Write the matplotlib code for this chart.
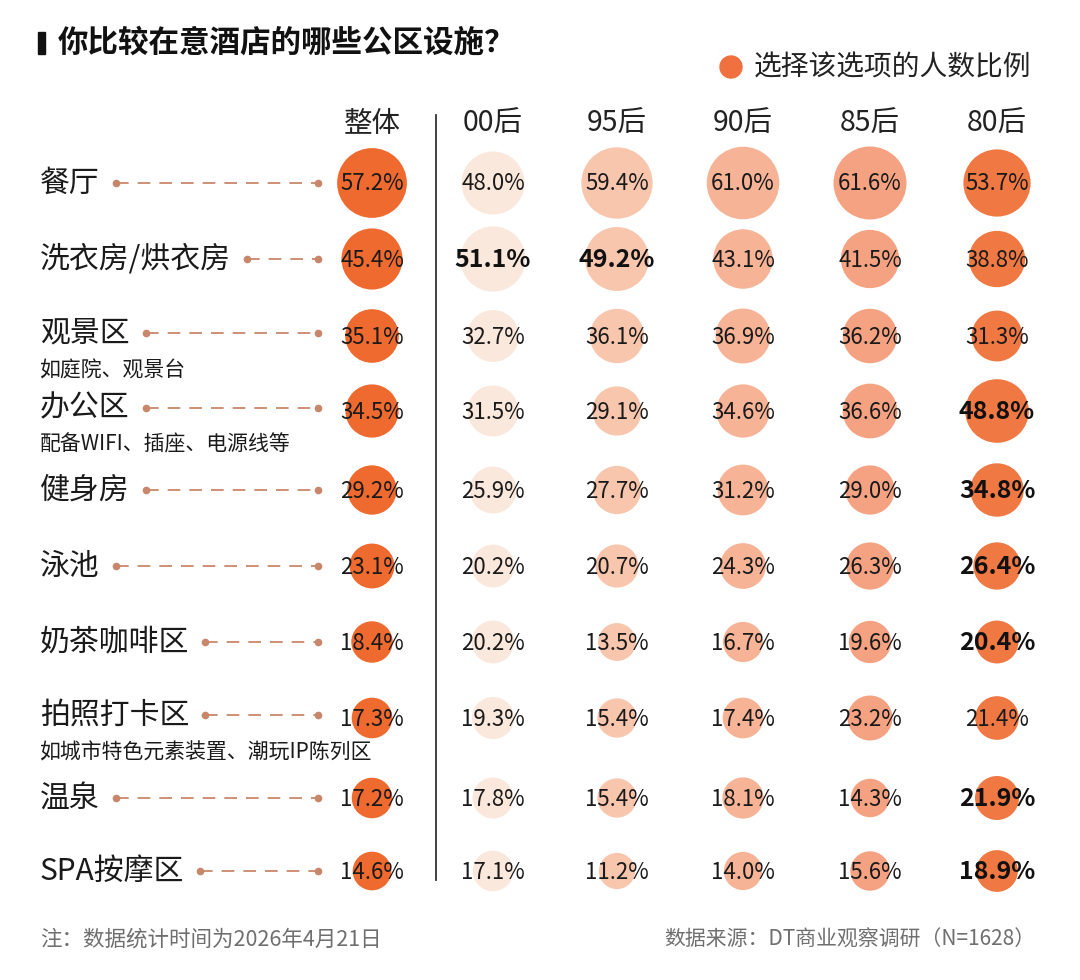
import matplotlib
matplotlib.use("Agg")
import matplotlib.pyplot as plt
from matplotlib.patches import Ellipse, Rectangle

plt.rcParams['font.family'] = ['Noto Sans CJK SC', 'DejaVu Sans']

# 数据
facilities = ['餐厅', '洗衣房/烘衣房', '观景区', '办公区', '健身房', '泳池',
              '奶茶咖啡区', '拍照打卡区', '温泉', 'SPA按摩区']
notes = ['', '', '如庭院、观景台', '配备WIFI、插座、电源线等', '', '', '',
         '如城市特色元素装置、潮玩IP陈列区', '', '']
groups = ['整体', '00后', '95后', '90后', '85后', '80后']

overall = [57.2, 45.4, 35.1, 34.5, 29.2, 23.1, 18.4, 17.3, 17.2, 14.6]
gen00 = [48.0, 51.1, 32.7, 31.5, 25.9, 20.2, 20.2, 19.3, 17.8, 17.1]
gen95 = [59.4, 49.2, 36.1, 29.1, 27.7, 20.7, 13.5, 15.4, 15.4, 11.2]
gen90 = [61.0, 43.1, 36.9, 34.6, 31.2, 24.3, 16.7, 17.4, 18.1, 14.0]
gen85 = [61.6, 41.5, 36.2, 36.6, 29.0, 26.3, 19.6, 23.2, 14.3, 15.6]
gen80 = [53.7, 38.8, 31.3, 48.8, 34.8, 26.4, 20.4, 21.4, 21.9, 18.9]

# 加粗显示的数值 (行, 列)
highlight = [(1, 1), (1, 2), (3, 5), (4, 5), (5, 5), (6, 5), (8, 5), (9, 5)]

series = [overall, gen00, gen95, gen90, gen85, gen80]
colors = ['#EF6A2F', '#FBE8DC', '#F8C6AD', '#F6B396', '#F4A281', '#F07843']

fig = plt.figure(figsize=(10.8, 9.8), dpi=100)
ax = fig.add_axes([0, 0, 1, 1])
ax.set_xlim(0, 1080)
ax.set_ylim(980, 0)
ax.axis('off')

# 标题与图例
ax.add_patch(Rectangle((38, 32), 7, 22, color='#111111'))
ax.text(58, 43, '你比较在意酒店的哪些公区设施？', fontsize=22, fontweight='bold',
        va='center', ha='left', color='#111111')
ax.add_patch(Ellipse((731, 67), 22, 22, color='#F07040'))
ax.text(754, 67, '选择该选项的人数比例', fontsize=20, va='center', ha='left', color='#222222')

col_x = [372, 493, 617, 743, 870, 997]
row_y = [183, 259, 336, 411, 490, 566, 642, 718, 798, 871]

for j, g in enumerate(groups):
    ax.text(col_x[j], 124, g, fontsize=20.5, ha='center', va='center', color='#222222')

ax.plot([436, 436], [115, 880], color='#333333', lw=1.3)

renderer = fig.canvas.get_renderer()
leader_end = 318
for i, name in enumerate(facilities):
    y = row_y[i]
    ty = y - 3 if notes[i] else y
    t = ax.text(40, ty, name, fontsize=21.5, ha='left', va='center', color='#1a1a1a')
    if notes[i]:
        ax.text(40, y + 34, notes[i], fontsize=15, ha='left', va='center', color='#1a1a1a')
    bb = t.get_window_extent(renderer)
    x_start = bb.x1 + 16
    ax.plot([x_start, leader_end], [ty, ty], color='#C8876A', lw=1.3,
            linestyle=(0, (7, 5)))
    ax.plot([x_start, leader_end], [ty, ty], 'o', color='#C8876A', ms=4.5)

    for j, vals in enumerate(series):
        v = vals[i]
        d = 28 + 0.73 * v
        ax.add_patch(Ellipse((col_x[j], y), d, d, color=colors[j], lw=0))
        if (i, j) in highlight:
            ax.text(col_x[j], y + 1, f'{v:.1f}%', fontsize=18, fontweight='semibold',
                    ha='center', va='center', color='#111111')
        else:
            ax.text(col_x[j], y + 1, f'{v:.1f}%', fontsize=16,
                    ha='center', va='center', color='#1a1a1a')

ax.text(40, 940, '注：数据统计时间为2026年4月21日', fontsize=15.5, ha='left',
        va='center', color='#6f6f6f')
ax.text(1035, 940, '数据来源：DT商业观察调研（N=1628）', fontsize=15, ha='right',
        va='center', color='#6f6f6f')

fig.savefig('out.png', dpi=100, facecolor='white')
